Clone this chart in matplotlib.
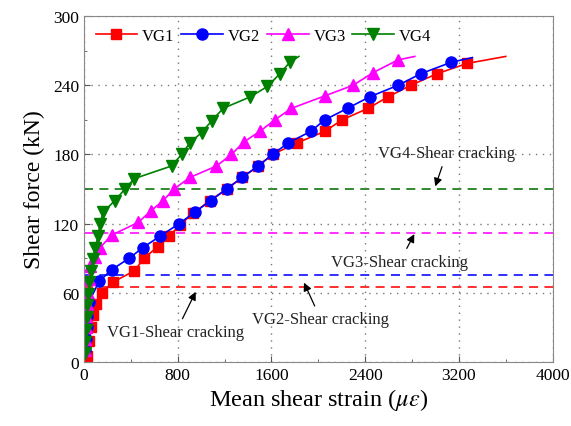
import matplotlib.pyplot as plt
import numpy as np

plt.rcParams['font.family'] = ['Liberation Serif', 'DejaVu Serif']
plt.rcParams['mathtext.fontset'] = 'stix'

# mean shear strain (micro-strain) and shear force (kN) per specimen
vg1_x = [0, 12, 28, 45, 60, 80, 100, 151, 244, 429, 515, 628, 728, 819, 932, 1075, 1217,
         1350, 1487, 1609, 1819, 2055, 2203, 2425, 2596, 2789, 3013, 3272, 3599]
vg1_y = [0, 2, 5, 18, 30, 41, 50, 60, 69, 79, 90, 100, 109, 119, 129, 140, 150,
         160, 170, 180, 190, 200, 210, 220, 230, 240, 250, 259, 265]

vg2_x = [0, 8, 15, 22, 30, 42, 131, 236, 387, 500, 648, 813, 947, 1083, 1217, 1350, 1487,
         1609, 1743, 1936, 2055, 2249, 2439, 2681, 2874, 3136, 3315]
vg2_y = [0, 10, 20, 30, 40, 52, 70, 80, 90, 99, 109, 120, 130, 140, 150, 160, 170,
         180, 190, 200, 210, 220, 230, 240, 250, 260, 264]

vg3_x = [0, 5, 10, 15, 20, 25, 32, 40, 51, 94, 136, 236, 463, 571, 677, 768, 904, 1131,
         1259, 1367, 1501, 1629, 1771, 2061, 2297, 2468, 2681, 2823]
vg3_y = [0, 10, 20, 30, 40, 50, 60, 72, 83, 91, 99, 110, 121, 131, 140, 150, 160, 170,
         180, 191, 200, 210, 220, 231, 240, 251, 262, 265]

vg4_x = [0, 9, 11, 17, 23, 28, 37, 45, 60, 74, 94, 122, 136, 165, 264, 350, 429, 748,
         833, 904, 1004, 1089, 1188, 1421, 1566, 1672, 1757, 1834]
vg4_y = [0, 8, 17, 28, 39, 49, 59, 69, 79, 89, 99, 109, 120, 130, 140, 150, 159, 170,
         180, 190, 199, 209, 220, 230, 239, 250, 260, 265]

crack_levels = [65, 75, 112, 150]
crack_colors = ['#ff2020', '#2020ff', '#ff20ff', '#208020']

fig, ax = plt.subplots(figsize=(5.71, 4.27), dpi=100)
fig.subplots_adjust(left=0.147, right=0.968, bottom=0.150, top=0.960)

for lvl, c in zip(crack_levels, crack_colors):
    ax.axhline(lvl, color=c, lw=1.3, ls=(0, (5, 3.5)), zorder=1)

ax.plot(vg1_x, vg1_y, '-s', color='red', ms=7, lw=1.2,
        markevery=list(range(1, len(vg1_x) - 1)), label='VG1')
ax.plot(vg2_x, vg2_y, '-o', color='blue', ms=8, lw=1.2,
        markevery=list(range(1, len(vg2_x) - 1)), label='VG2')
ax.plot(vg3_x, vg3_y, '-^', color='magenta', ms=8.5, lw=1.2,
        markevery=list(range(1, len(vg3_x) - 1)), label='VG3')
ax.plot(vg4_x, vg4_y, '-v', color='green', ms=8.5, lw=1.2,
        markevery=list(range(1, len(vg4_x) - 1)), label='VG4')

arrow = dict(arrowstyle='-|>', color='black', lw=0.9, mutation_scale=12)
fs = 12
ax.annotate('VG4-Shear cracking', xy=(2990, 150), xytext=(3095, 181),
            ha='center', va='center', fontsize=fs, color='#222222', arrowprops=arrow)
ax.annotate('VG3-Shear cracking', xy=(2830, 113), xytext=(2695, 87),
            ha='center', va='center', fontsize=fs, color='#222222', arrowprops=arrow)
ax.annotate('VG2-Shear cracking', xy=(1868, 71), xytext=(2021, 37),
            ha='center', va='center', fontsize=fs, color='#222222', arrowprops=arrow)
ax.annotate('VG1-Shear cracking', xy=(964, 63), xytext=(785, 26),
            ha='center', va='center', fontsize=fs, color='#222222', arrowprops=arrow)

ax.set_xlim(0, 4000)
ax.set_ylim(0, 300)
ax.set_xticks(np.arange(0, 4001, 800))
ax.set_yticks(np.arange(0, 301, 60))
ax.set_xticks(np.arange(400, 4000, 800), minor=True)
ax.set_yticks(np.arange(30, 300, 60), minor=True)
ax.tick_params(direction='in', which='both', labelsize=12.5, color='#555555')
ax.tick_params(which='major', length=4)
ax.tick_params(which='minor', length=2.5)
ax.grid(True, which='major', ls=(0, (1, 4)), color='#777777', lw=1)
for s in ax.spines.values():
    s.set_color('#888888')

ax.set_xlabel(r'Mean shear strain ($\mu\varepsilon$)', fontsize=17.5, labelpad=2)
ax.set_ylabel('Shear force (kN)', fontsize=17, labelpad=6)

ax.legend(loc='upper left', ncol=4, frameon=False, fontsize=12, handlelength=2.5,
          handletextpad=0.3, columnspacing=0.4, borderaxespad=0.3,
          bbox_to_anchor=(0.0, 1.0))

fig.savefig('out.png', dpi=100)
